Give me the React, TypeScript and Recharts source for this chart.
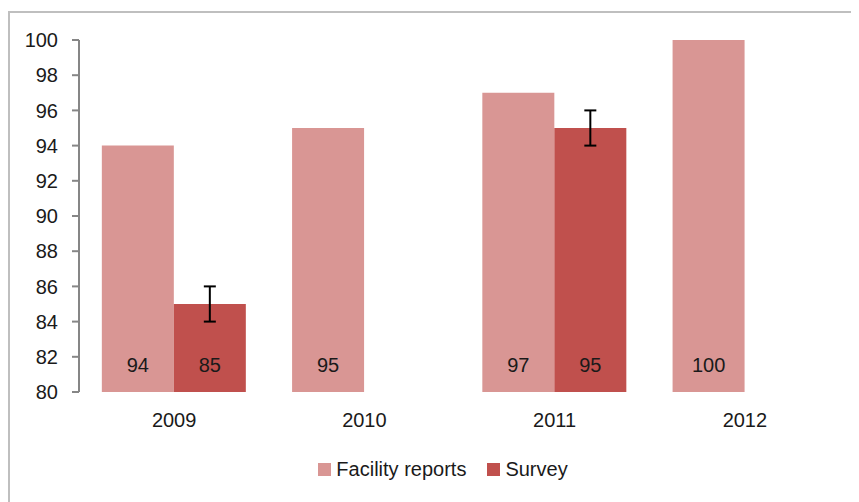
import {
  Bar,
  BarChart,
  ErrorBar,
  LabelList,
  Legend,
  XAxis,
  YAxis,
} from "recharts";

const years = ["2009", "2010", "2011", "2012"];
const facilityReports = [94, 95, 97, 100];
const survey = [85, null, 95, null];
const surveyError = [1, null, 1, null];
const yTicks = [80, 82, 84, 86, 88, 90, 92, 94, 96, 98, 100];
const edgeTicks = [0, 1, 2, 3, 4];

const FONT = "'Liberation Sans', Arial, sans-serif";
const FACILITY = "#D99694";
const SURVEY = "#C0504D";
const AXIS = "#868686";
const TEXT = "#1a1a1a";

const data = years.map((year, i) => ({
  year,
  facility: facilityReports[i],
  survey: survey[i],
  surveyErr: surveyError[i],
}));

const legendItems = [
  { name: "Facility reports", color: FACILITY },
  { name: "Survey", color: SURVEY },
];

function ChartLegend() {
  return (
    <div
      style={{
        display: "flex",
        justifyContent: "center",
        gap: 21,
        paddingLeft: 38,
        fontFamily: FONT,
        fontSize: 20,
        color: TEXT,
        lineHeight: "26px",
      }}
    >
      {legendItems.map((item) => (
        <div key={item.name} style={{ display: "flex", alignItems: "center" }}>
          <span
            style={{
              width: 13,
              height: 13,
              background: item.color,
              display: "inline-block",
              marginRight: 5,
            }}
          />
          {item.name}
        </div>
      ))}
    </div>
  );
}

export default function App() {
  return (
    <div style={{ position: "relative", width: 851, height: 494 }}>
      <div
        style={{
          position: "absolute",
          left: 0,
          top: 3,
          width: 860,
          height: 500,
          borderLeft: "2px solid #BFBFBF",
          borderTop: "2px solid #BFBFBF",
          boxSizing: "border-box",
        }}
      />
      <BarChart
        width={851}
        height={494}
        data={data}
        margin={{ top: 32, right: 19, left: 0, bottom: 20 }}
        barCategoryGap="12%"
        barGap={0}
        style={{ position: "relative" }}
      >
        <XAxis
          xAxisId="edges"
          type="number"
          domain={[0, 4]}
          ticks={edgeTicks}
          height={0}
          tickFormatter={() => ""}
          stroke={AXIS}
          strokeWidth={2}
          tickSize={6}
        />
        <XAxis
          dataKey="year"
          height={64}
          axisLine={false}
          tickLine={false}
          tickSize={0}
          tickMargin={21}
          tick={{ fontFamily: FONT, fontSize: 20, fill: TEXT }}
        />
        <YAxis
          width={71}
          domain={[80, 100]}
          ticks={yTicks}
          interval={0}
          allowDataOverflow
          stroke={AXIS}
          strokeWidth={2}
          tickSize={7}
          tickMargin={14}
          tick={{ fontFamily: FONT, fontSize: 20, fill: TEXT }}
        />
        <Legend verticalAlign="bottom" content={() => <ChartLegend />} />
        <Bar dataKey="facility" name="Facility reports" fill={FACILITY} isAnimationActive={false}>
          <LabelList
            dataKey="facility"
            position="insideBottom"
            offset={20}
            style={{ fontFamily: FONT, fontSize: 20, fill: TEXT }}
          />
        </Bar>
        <Bar dataKey="survey" name="Survey" fill={SURVEY} isAnimationActive={false}>
          <LabelList
            dataKey="survey"
            position="insideBottom"
            offset={20}
            style={{ fontFamily: FONT, fontSize: 20, fill: TEXT }}
          />
          <ErrorBar dataKey="surveyErr" width={6} stroke="#000" strokeWidth={2} direction="y" />
        </Bar>
      </BarChart>
    </div>
  );
}
